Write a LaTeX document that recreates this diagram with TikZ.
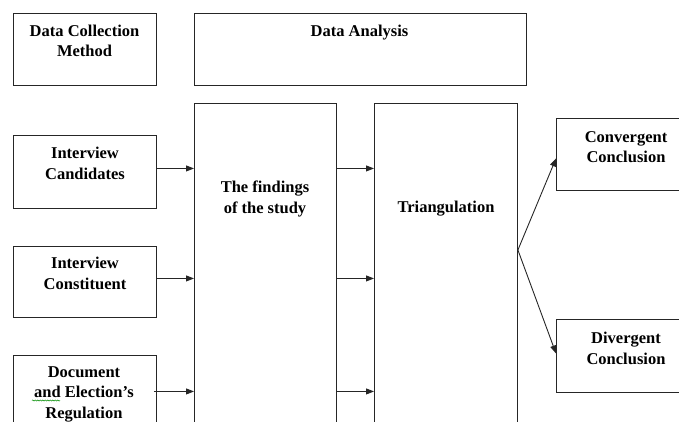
\documentclass[tikz,border=0pt]{standalone}
\usepackage{fontspec}
\setmainfont{Liberation Serif}
\usetikzlibrary{arrows.meta,decorations.pathmorphing}
\begin{document}
\begin{tikzpicture}[x=1pt,y=-1pt,
  box/.style={draw=black!85, line width=0.9pt, anchor=north west, inner sep=0pt},
  txt/.style={anchor=north, inner sep=0pt, align=center, font=\fontsize{16.5}{20.5}\selectfont\bfseries},
  arr/.style={draw=black!85, line width=0.9pt, -{Triangle[length=8pt,width=6pt]}}]
\useasboundingbox (0,0) rectangle (679,422);
\clip (0,0) rectangle (679,422);
% boxes
\node[box, minimum width=143pt, minimum height=72pt] (dcm) at (13,13) {};
\node[box, minimum width=332pt, minimum height=72pt] (da) at (194,13) {};
\node[box, minimum width=143pt, minimum height=73pt] (ic) at (13,135) {};
\node[box, minimum width=143pt, minimum height=71pt] (icon) at (13,246) {};
\node[box, minimum width=143pt, minimum height=75pt] (doc) at (13,355) {};
\node[box, minimum width=142pt, minimum height=340pt] (find) at (194,103) {};
\node[box, minimum width=143pt, minimum height=340pt] (tri) at (374,103) {};
\node[box, minimum width=140pt, minimum height=72pt] (conv) at (556,118) {};
\node[box, minimum width=140pt, minimum height=73pt] (div) at (556,319) {};
% texts
\node[txt] (dcmt) at (84.5,24.5) {Data Collection\\Method};
\node[txt] (dat) at (359.5,24.5) {Data Analysis};
\node[txt] (ict) at (85,147) {Interview\\Candidates};
\node[txt] (icont) at (85,257) {Interview\\Constituent};
\node[txt] (doct) at (84,366) {Document\\and Election’s\\Regulation};
\node[txt] (findt) at (265,181) {The findings\\of the study};
\node[txt] (trit) at (446,201) {Triangulation};
\node[txt] (convt) at (626,131) {Convergent\\Conclusion};
\node[txt] (divt) at (626,332) {Divergent\\Conclusion};
% spell-check underline
\draw[green!55!black, line width=0.5pt, decorate, decoration={snake, amplitude=0.6pt, segment length=2.5pt}] (32,400.5) -- (60,400.5);
% connector anchors
\coordinate (r1) at ([yshift=3.5pt]ic.east);
\coordinate (r2) at ([yshift=3.5pt]icon.east);
\coordinate (r3) at ([yshift=1.5pt]doc.east);
\path (tri.north east) ++(0,147) coordinate (tout);
% arrows
\draw[arr] (r1) -- (r1 -| find.west);
\draw[arr] (r2) -- (r2 -| find.west);
\draw[arr] ([xshift=-3pt]r3) -- (r3 -| find.west);
\draw[arr] (r1 -| find.east) -- (r1 -| tri.west);
\draw[arr] (r2 -| find.east) -- (r2 -| tri.west);
\draw[arr] (r3 -| find.east) -- (r3 -| tri.west);
\draw[arr] (tout) -- ([yshift=-4pt]conv.west);
\draw[arr] (tout) -- ([yshift=2.5pt]div.west);
\end{tikzpicture}
\end{document}
